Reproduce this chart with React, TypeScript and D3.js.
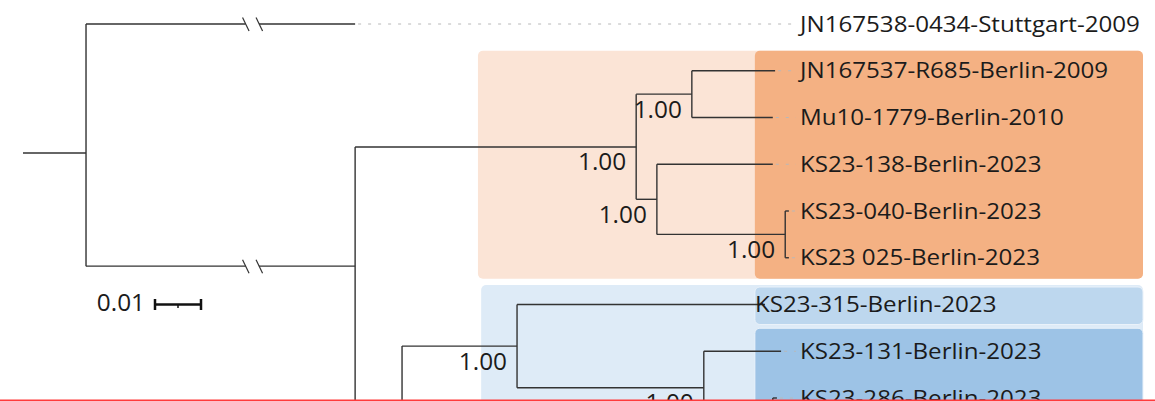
import React from 'react';
import * as d3 from 'd3';

// ---- Tree data (depth = substitutions/site from the drawing origin, row = leaf slot) ----
const nodeIds = ['root', 'stuttgart', 'b', 'o', 'n1', 'jn537', 'mu10', 'n2', 'ks138', 'n3', 'ks040', 'ks025', 'c', 'n4', 'ks315', 'n5', 'ks131', 'n6', 'ks286', 'h1', 'h2'];
const nodeParents = [null, 'root', 'root', 'b', 'o', 'n1', 'n1', 'o', 'n2', 'n2', 'n3', 'n3', 'b', 'c', 'n4', 'n4', 'n5', 'n5', 'n6', 'n6', 'c'];
const nodeDepths = [0.0137, 0.0722, 0.0722, 0.1333, 0.1454, 0.1635, 0.163, 0.1378, 0.163, 0.1657, 0.1665, 0.1665, 0.0824, 0.1074, 0.1613, 0.148, 0.1648, 0.163, 0.1639, 0.1639, 0.1639];
const nodeRows = [2.76, 0, 5.18, 2.63, 1.5, 1, 2, 3.75, 3, 4.5, 4, 5, 8.45, 6.89, 6, 7.78, 7, 8.5, 8, 9, 10];
const nodeSupport: (number | null)[] = [null, null, null, 1, 1, null, null, 1, null, 1, null, null, null, 1, null, 1, null, null, null, null, null];
const leafLabels: Record<string, string> = {
  stuttgart: 'JN167538-0434-Stuttgart-2009',
  jn537: 'JN167537-R685-Berlin-2009',
  mu10: 'Mu10-1779-Berlin-2010',
  ks138: 'KS23-138-Berlin-2023',
  ks040: 'KS23-040-Berlin-2023',
  ks025: 'KS23 025-Berlin-2023',
  ks315: 'KS23-315-Berlin-2023',
  ks131: 'KS23-131-Berlin-2023',
  ks286: 'KS23-286-Berlin-2023',
  h1: '',
  h2: '',
};
const brokenBranches = ['stuttgart', 'b'];
const scaleBarValue = 0.01;

// ---- Clade highlight boxes ----
const boxIds = ['orangeOuter', 'orangeInner', 'blueOuter', 'blueSingle', 'blueInner'];
const boxRowStart = [1, 1, 6, 6, 7];
const boxRowEnd = [5, 5, 10, 6, 10];
const boxDepthStart = [0.0989, 0.1591, 0.0996, 0.1591, 0.1591];

const boxStyle: Record<string, { fill: string; padTop: number; padBottom: number; stroke?: string }> = {
  orangeOuter: { fill: '#FBE4D6', padTop: 20, padBottom: 21 },
  orangeInner: { fill: '#F4B183', padTop: 20, padBottom: 21 },
  blueOuter: { fill: '#DEEBF7', padTop: 19.5, padBottom: 21 },
  blueSingle: { fill: '#BDD7EE', padTop: 17.5, padBottom: 20, stroke: '#EAF2FA' },
  blueInner: { fill: '#9DC3E6', padTop: 23, padBottom: 21, stroke: '#EAF2FA' },
};

const W = 1155;
const H = 401;
const FONT = '"Open Sans", Lato, sans-serif';
const LINE = '#333';
const TEXT = '#1b1b1b';
const LABEL_STRETCH = 1.15;
const NUM_STRETCH = 1.06;

export default function App() {
  const nodes = nodeIds.map((id, i) => ({
    id,
    parent: nodeParents[i],
    depth: nodeDepths[i],
    row: nodeRows[i],
    support: nodeSupport[i],
  }));
  const root = d3
    .stratify<typeof nodes[number]>()
    .id((d) => d.id)
    .parentId((d) => d.parent)(nodes);

  const x = d3.scaleLinear().domain([0, scaleBarValue]).range([23, 69]);
  const y = d3.scaleLinear().domain([0, 8]).range([24, 398]);
  const boxRight = 1143;
  const labelX = 800;
  const leaderEnd = 796;
  const labelShift: Record<string, number> = { ks315: -45 };

  const lines: JSX.Element[] = [];
  const all = root.descendants();

  // root stem
  lines.push(
    <line key="stem" x1={x(0)} x2={x(root.data.depth)} y1={y(root.data.row)} y2={y(root.data.row)} stroke={LINE} strokeWidth={1.4} />
  );

  all.forEach((n) => {
    const nx = x(n.data.depth);
    const ny = y(n.data.row);
    if (n.children && n.children.length) {
      const ys = n.children.map((c) => y(c.data.row));
      lines.push(
        <line key={'v' + n.id} x1={nx} x2={nx} y1={d3.min(ys)!} y2={d3.max(ys)!} stroke={LINE} strokeWidth={1.4} />
      );
    }
    if (n.parent) {
      const px = x(n.parent.data.depth);
      if (brokenBranches.includes(n.data.id)) {
        const bx = px + (nx - px) * 0.617;
        const a = bx - 6.5;
        const b = bx + 7;
        lines.push(<line key={'h1' + n.id} x1={px} x2={a} y1={ny} y2={ny} stroke={LINE} strokeWidth={1.4} />);
        lines.push(<line key={'h2' + n.id} x1={b} x2={nx} y1={ny} y2={ny} stroke={LINE} strokeWidth={1.4} />);
        [a, b].forEach((sx, k) =>
          lines.push(
            <line key={'s' + k + n.id} x1={sx - 3} x2={sx + 3.5} y1={ny - 6.5} y2={ny + 7} stroke={LINE} strokeWidth={1.2} />
          )
        );
      } else {
        lines.push(<line key={'h' + n.id} x1={px} x2={nx} y1={ny} y2={ny} stroke={LINE} strokeWidth={1.4} />);
      }
    }
  });

  const leaves = root.leaves();

  return (
    <svg width={W} height={H} style={{ position: 'fixed', left: 0, top: 0, background: '#fff' }}>
      <rect x={0} y={0} width={W} height={H} fill="#fff" />
      {boxIds.map((id, i) => {
        const s = boxStyle[id];
        const top = y(boxRowStart[i]) - s.padTop;
        const bottom = y(boxRowEnd[i]) + s.padBottom;
        const left = x(boxDepthStart[i]);
        return (
          <rect
            key={id}
            x={left}
            y={top}
            width={boxRight - left}
            height={bottom - top}
            rx={5}
            fill={s.fill}
            stroke={s.stroke ?? 'none'}
            strokeWidth={1}
          />
        );
      })}
      {/* leader lines */}
      {leaves.map((l) => {
        const lx = x(l.data.depth);
        if (!leafLabels[l.data.id] || labelShift[l.data.id] !== undefined || lx >= leaderEnd - 4) return null;
        return (
          <line
            key={'ld' + l.id}
            x1={lx + 3}
            x2={leaderEnd}
            y1={y(l.data.row)}
            y2={y(l.data.row)}
            stroke="#b8b8b8"
            strokeWidth={1}
            strokeDasharray="3 7"
          />
        );
      })}
      {lines}
      {/* leaf labels */}
      {leaves.map((l) => (
        <text
          key={'lb' + l.id}
          transform={`translate(${labelX + (labelShift[l.data.id] ?? 0)},${y(l.data.row) + 7.5}) scale(${LABEL_STRETCH},1)`}
          fontFamily={FONT}
          fontSize={21}
          fill={TEXT}
        >
          {leafLabels[l.data.id]}
        </text>
      ))}
      {/* support values */}
      {all
        .filter((n) => n.data.support != null)
        .map((n) => (
          <text
            key={'sp' + n.id}
            transform={`translate(${x(n.data.depth) - 10},${y(n.data.row) + 23.5}) scale(${NUM_STRETCH},1)`}
            textAnchor="end"
            fontFamily={FONT}
            fontSize={23}
            fill={TEXT}
          >
            {d3.format('.2f')(n.data.support!)}
          </text>
        ))}
      {/* scale bar */}
      <g stroke="#111" strokeWidth={2.5}>
        <line x1={155} x2={155 + x(scaleBarValue) - x(0)} y1={304.5} y2={304.5} />
        <line x1={155} x2={155} y1={299} y2={310} />
        <line x1={155 + x(scaleBarValue) - x(0)} x2={155 + x(scaleBarValue) - x(0)} y1={299} y2={310} />
        <line x1={155 + (x(scaleBarValue) - x(0)) / 2} x2={155 + (x(scaleBarValue) - x(0)) / 2} y1={304} y2={308} strokeWidth={1.5} />
      </g>
      <text transform={`translate(145,311) scale(${NUM_STRETCH},1)`} textAnchor="end" fontFamily={FONT} fontSize={23} fill={TEXT}>
        {d3.format('.2f')(scaleBarValue)}
      </text>
      {/* bottom edge */}
      <rect x={0} y={399.5} width={W} height={1.5} fill="#ff3b3b" />
    </svg>
  );
}
